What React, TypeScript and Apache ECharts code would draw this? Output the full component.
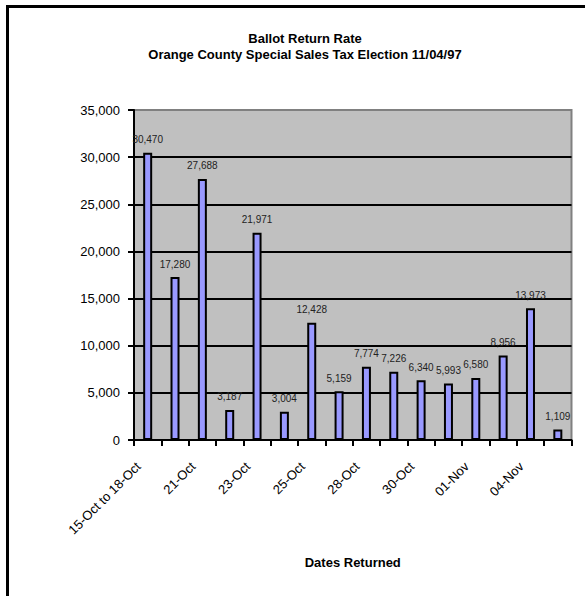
import React, { useEffect, useRef } from "react";
import * as echarts from "echarts";

const titleLines = ["Ballot Return Rate", "Orange County Special Sales Tax Election 11/04/97"];
const xAxisTitle = "Dates Returned";
const categories = [
  "15-Oct to 18-Oct", "20-Oct", "21-Oct", "22-Oct", "23-Oct", "24-Oct", "25-Oct", "27-Oct",
  "28-Oct", "29-Oct", "30-Oct", "31-Oct", "01-Nov", "03-Nov", "04-Nov", "05-Nov",
];
const ballots = [
  30470, 17280, 27688, 3187, 21971, 3004, 12428, 5159,
  7774, 7226, 6340, 5993, 6580, 8956, 13973, 1109,
];
const yMin = 0;
const yMax = 35000;
const yStep = 5000;

const FONT = "'Liberation Sans', Arial, sans-serif";
const fmt = (v: number) => Number(v).toLocaleString("en-US");

export default function App() {
  const ref = useRef<HTMLDivElement>(null);
  useEffect(() => {
    document.body.style.margin = "0";
    const chart = echarts.init(ref.current!, null, { renderer: "svg" });
    chart.setOption({
      animation: false,
      backgroundColor: "#ffffff",
      textStyle: { fontFamily: FONT },
      title: {
        text: titleLines.join("\n"),
        left: 300,
        top: 25,
        textAlign: "center",
        textStyle: { fontFamily: FONT, fontSize: 13, fontWeight: "bold", color: "#000", lineHeight: 16 },
      },
      graphic: [
        {
          type: "rect",
          z: -10,
          shape: { x: 7.5, y: 6.5, width: 700, height: 700 },
          style: { fill: "none", stroke: "#000", lineWidth: 3 },
        },
      ],
      grid: {
        left: 134,
        top: 110,
        width: 437.5,
        height: 330,
        show: true,
        backgroundColor: "#C0C0C0",
        borderColor: "#808080",
        borderWidth: 2,
      },
      xAxis: {
        type: "category",
        data: categories,
        name: xAxisTitle,
        nameLocation: "middle",
        nameGap: 116,
        nameTextStyle: { fontFamily: FONT, fontSize: 13, fontWeight: "bold", color: "#000" },
        axisLine: { lineStyle: { color: "#000", width: 2 } },
        axisTick: { show: true, interval: 0, length: 6, lineStyle: { color: "#000", width: 2 } },
        axisLabel: {
          interval: 1,
          rotate: 45,
          margin: 15,
          padding: [0, 13, 0, 0],
          fontFamily: FONT,
          fontSize: 13,
          color: "#000",
        },
        splitLine: { show: false },
      },
      yAxis: {
        type: "value",
        min: yMin,
        max: yMax,
        interval: yStep,
        axisLine: { show: true, lineStyle: { color: "#000", width: 2 } },
        axisTick: { show: true, length: 6, lineStyle: { color: "#000", width: 2 } },
        axisLabel: { margin: 14, fontFamily: FONT, fontSize: 13, color: "#000", formatter: (v: number) => fmt(v) },
        splitLine: { show: true, showMaxLine: false, lineStyle: { color: "#000", width: 2 } },
      },
      series: [
        {
          type: "bar",
          data: ballots,
          barWidth: 9,
          itemStyle: { color: "#9999FF", borderColor: "#000", borderWidth: 2 },
          label: {
            show: true,
            position: "top",
            distance: 8,
            fontFamily: FONT,
            fontSize: 10,
            color: "#222",
            formatter: (p: any) => fmt(p.value),
          },
        },
      ],
    });
    return () => chart.dispose();
  }, []);
  return <div ref={ref} style={{ width: 585, height: 596 }} />;
}
